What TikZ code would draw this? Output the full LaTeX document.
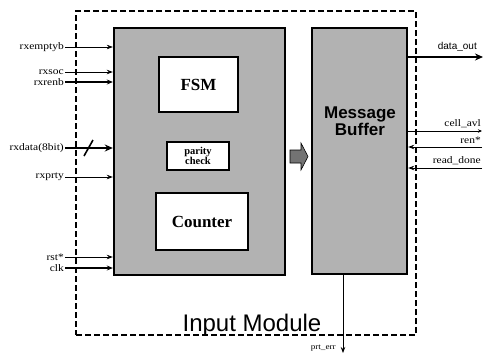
\documentclass[tikz,border=0pt]{standalone}
\usepackage{fontspec}
\setmainfont{Liberation Serif}
\newfontfamily\hsans{Liberation Sans}
\usetikzlibrary{arrows.meta}
\newcommand{\lbltxt}[1]{\scalebox{1.15}[1]{\fontsize{10}{10}\selectfont #1}}
\tikzset{
  shade box/.style={draw=black, line width=2.4pt, fill=black!30},
  inner box/.style={draw=black, line width=2pt, fill=white},
  sig/.style={line width=0.8pt, -{Stealth[length=6pt,width=4.5pt]}},
  midsig/.style={line width=1.5pt, -{Stealth[length=6pt,width=5pt]}},
  bigsig/.style={line width=2.6pt, -{Stealth[length=8pt,width=7pt]}},
  lbl/.style={inner sep=1pt, anchor=east},
  rlbl/.style={inner sep=1pt, anchor=south east},
  block arrow/.style={draw=black, line width=0.6pt, fill=black!55, line join=miter},
}
\begin{document}
\begin{tikzpicture}[x=1pt,y=-1pt]
\useasboundingbox (0,0) rectangle (488,354);
% outer dashed module
\node[draw=black, line width=1.8pt, dash pattern=on 6pt off 3pt, minimum width=340pt, minimum height=324pt, inner sep=0pt] (module) at (246,173) {};
% main boxes
\node[shade box, minimum width=171pt, minimum height=247pt, inner sep=0pt] (inbox) at (199.5,151.5) {};
\node[shade box, minimum width=95pt, minimum height=246pt, inner sep=0pt] (mbuf) at (359.5,151) {};
% inner boxes
\node[inner box, minimum width=79pt, minimum height=55pt, inner sep=0pt, font=\fontsize{17}{17}\selectfont\bfseries] (fsm) at (198.5,84.5) {FSM};
\node[inner box, minimum width=62pt, minimum height=28pt, inner sep=0pt, align=center, font=\fontsize{10.5}{10}\selectfont\bfseries] (parity) at (198,156) {parity\\check};
\node[inner box, minimum width=92pt, minimum height=57pt, inner sep=0pt, font=\fontsize{17}{17}\selectfont\bfseries] (counter) at (202,221.5) {Counter};
\node[align=center, font=\hsans\fontsize{17}{17}\selectfont\bfseries, inner sep=0pt] (mbtxt) at (360,121) {Message\\Buffer};
% gray block arrow between the two blocks
\draw[block arrow] (290,150) -- (301,150) -- (301,143) -- (308,156.5) -- (301,170) -- (301,163) -- (290,163) -- cycle;
% module title
\node[font=\hsans\fontsize{24}{24}\selectfont, anchor=base, inner sep=0pt] (title) at (252,331) {Input Module};
% left input labels
\node[lbl] (rxemptyb) at (65,47) {\lbltxt{rxemptyb}};
\node[lbl] (rxsoc) at (65,72) {\lbltxt{rxsoc}};
\node[lbl] (rxrenb) at (65,82) {\lbltxt{rxrenb}};
\node[lbl] (rxdata) at (65,148) {\lbltxt{rxdata(8bit)}};
\node[lbl] (rxprty) at (65,177) {\lbltxt{rxprty}};
\node[lbl] (rst) at (65,257) {\lbltxt{rst*}};
\node[lbl] (clk) at (65,268) {\lbltxt{clk}};
\draw[sig, line width=0.6pt] (rxemptyb.east) -- (inbox.west |- rxemptyb.east);
\draw[sig] (rxsoc.east) -- (inbox.west |- rxsoc.east);
\draw[midsig] (rxrenb.east) -- (inbox.west |- rxrenb.east);
\draw[bigsig] (rxdata.east) -- (inbox.west |- rxdata.east);
\coordinate (slA) at (84,156);
\coordinate (slB) at (93,140);
\draw[line width=1.6pt] (slA) -- (slB);
\draw[sig] (rxprty.east) -- (inbox.west |- rxprty.east);
\draw[sig] (rst.east) -- (inbox.west |- rst.east);
\draw[midsig] (clk.east) -- (inbox.west |- clk.east);
% right side signals
\coordinate (dout) at (483,57);
\coordinate (cavl) at (482,131);
\coordinate (renA) at (482,147);
\coordinate (rdA) at (482,168);
\draw[bigsig] (mbuf.east |- dout) -- (dout);
\draw[line width=1pt, -{Stealth[length=4pt,width=3.5pt]}] (mbuf.east |- cavl) -- (cavl);
\draw[sig] (renA) -- (mbuf.east |- renA);
\draw[sig] (rdA) -- (mbuf.east |- rdA);
\node[rlbl, font=\hsans\fontsize{10}{10}\selectfont] (doutl) at (478,53) {data\_out};
\node[rlbl] (cavll) at (482,129) {\lbltxt{cell\_avl}};
\node[rlbl] (renl) at (482,145) {\lbltxt{ren*}};
\node[rlbl] (rdl) at (482,166) {\lbltxt{read\_done}};
% prt_err
\coordinate (perr) at (343,353);
\draw[sig] (mbuf.south -| perr) -- (perr);
\node[inner sep=0pt, anchor=east] (perrl) at (336,348) {\scalebox{1.15}[1]{\fontsize{8}{8}\selectfont prt\_err}};
\end{tikzpicture}
\end{document}
